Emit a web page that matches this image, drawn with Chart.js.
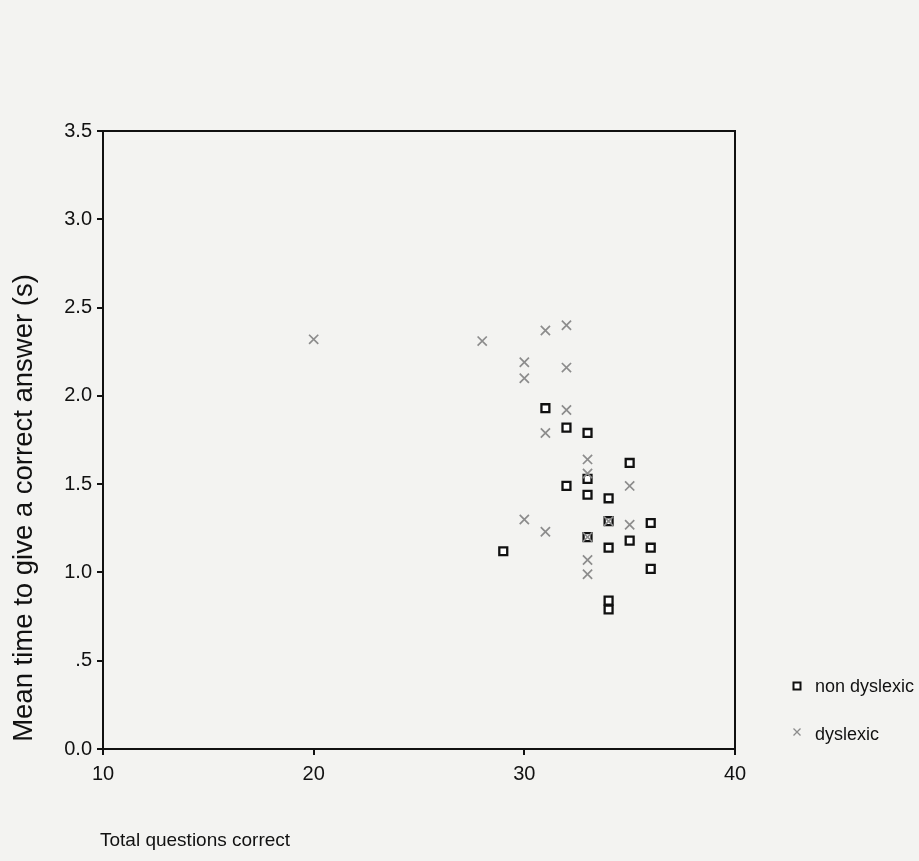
<!DOCTYPE html>
<html>
<head>
<meta charset="utf-8">
<script src="https://cdn.jsdelivr.net/npm/chart.js@4/dist/chart.umd.min.js"></script>
<style>
  html, body { margin: 0; padding: 0; background: #f3f3f1; }
  #wrap { width: 919px; height: 861px; position: relative; }
  canvas { display: block; }
</style>
</head>
<body>
<div id="wrap"><canvas id="c" width="919" height="861"></canvas></div>
<script>
// Total questions correct (x) and mean time to a correct answer in seconds (y)
const nonDyslexicX = [31, 32, 33, 33, 32, 33, 35, 34, 34, 36, 35, 33, 29, 34, 36, 36, 34, 34];
const nonDyslexicY = [1.93, 1.82, 1.79, 1.53, 1.49, 1.44, 1.62, 1.42, 1.29, 1.28, 1.18, 1.20, 1.12, 1.14, 1.14, 1.02, 0.84, 0.79];

const dyslexicX = [20, 28, 31, 32, 30, 30, 32, 32, 31, 33, 33, 35, 34, 35, 33, 30, 31, 33, 33];
const dyslexicY = [2.32, 2.31, 2.37, 2.40, 2.19, 2.10, 2.16, 1.92, 1.79, 1.64, 1.56, 1.49, 1.29, 1.27, 1.20, 1.30, 1.23, 1.07, 0.99];

const seriesNames = ['non dyslexic', 'dyslexic'];

const xTickValues = [10, 20, 30, 40];
const xTickLabels = ['10', '20', '30', '40'];
const yTickValues = [0, 0.5, 1, 1.5, 2, 2.5, 3, 3.5];
const yTickLabels = ['0.0', '.5', '1.0', '1.5', '2.0', '2.5', '3.0', '3.5'];

const xTitle = 'Total questions correct';
const yTitle = 'Mean time to give a correct answer (s)';

const FONT = '"Liberation Sans", Arial, Helvetica, sans-serif';
const INK = '#111111';
const CROSS_GREY = '#8c8c8c';

const toPoints = (xs, ys) => xs.map((x, i) => ({ x: x, y: ys[i] }));

// Closed frame, axis titles and the legend at the lower right
const framePlugin = {
  id: 'frame',
  afterDraw(chart) {
    const ctx = chart.ctx;
    const a = chart.chartArea;
    ctx.save();
    ctx.strokeStyle = INK;
    ctx.lineWidth = 2;
    ctx.beginPath();
    ctx.moveTo(a.left, a.top);
    ctx.lineTo(a.right, a.top);
    ctx.lineTo(a.right, a.bottom);
    ctx.stroke();

    // y title
    ctx.fillStyle = INK;
    ctx.font = '27.5px ' + FONT;
    ctx.textAlign = 'center';
    ctx.textBaseline = 'middle';
    ctx.translate(24, 508);
    ctx.rotate(-Math.PI / 2);
    ctx.fillText(yTitle, 0, 0);
    ctx.restore();

    // x title
    ctx.save();
    ctx.fillStyle = INK;
    ctx.font = '19px ' + FONT;
    ctx.textAlign = 'left';
    ctx.textBaseline = 'middle';
    ctx.fillText(xTitle, 100, 841);

    // legend
    const lx = 797;
    const rows = [686, 732];
    // square marker
    ctx.strokeStyle = INK;
    ctx.lineWidth = 2;
    ctx.fillStyle = '#ffffff';
    ctx.beginPath();
    ctx.rect(lx - 3.5, rows[0] - 3.5, 7, 7);
    ctx.fill();
    ctx.stroke();
    // cross marker
    ctx.strokeStyle = CROSS_GREY;
    ctx.lineWidth = 1.3;
    ctx.beginPath();
    ctx.moveTo(lx - 3.5, rows[1] - 3.5);
    ctx.lineTo(lx + 3.5, rows[1] + 3.5);
    ctx.moveTo(lx + 3.5, rows[1] - 3.5);
    ctx.lineTo(lx - 3.5, rows[1] + 3.5);
    ctx.stroke();

    ctx.fillStyle = INK;
    ctx.font = '18px ' + FONT;
    ctx.textBaseline = 'middle';
    ctx.fillText(seriesNames[0], 815, rows[0] + 1);
    ctx.fillText(seriesNames[1], 815, rows[1] + 3);
    ctx.restore();
  }
};

Chart.defaults.font.family = FONT;
Chart.defaults.color = INK;

new Chart(document.getElementById('c'), {
  type: 'scatter',
  data: {
    datasets: [
      {
        label: seriesNames[0],
        data: toPoints(nonDyslexicX, nonDyslexicY),
        pointStyle: 'rect',
        pointRadius: 5.6,
        pointHoverRadius: 5.6,
        borderWidth: 2.3,
        borderColor: INK,
        backgroundColor: '#ffffff',
        order: 2
      },
      {
        label: seriesNames[1],
        data: toPoints(dyslexicX, dyslexicY),
        pointStyle: 'crossRot',
        pointRadius: 6.5,
        pointHoverRadius: 6.5,
        borderWidth: 1.7,
        borderColor: CROSS_GREY,
        backgroundColor: CROSS_GREY,
        order: 1
      }
    ]
  },
  options: {
    responsive: false,
    animation: false,
    devicePixelRatio: 1,
    layout: { padding: { left: 0, top: 131, right: 184, bottom: 0 } },
    plugins: {
      legend: { display: false },
      tooltip: { enabled: false }
    },
    scales: {
      x: {
        type: 'linear',
        min: 10,
        max: 40,
        afterFit(scale) { scale.height = 112; },
        afterBuildTicks(scale) { scale.ticks = xTickValues.map(v => ({ value: v })); },
        ticks: {
          callback: (v) => xTickLabels[xTickValues.indexOf(v)],
          font: { size: 20 },
          color: INK,
          padding: 7,
          maxRotation: 0
        },
        grid: {
          drawOnChartArea: false,
          drawTicks: true,
          tickLength: 6,
          color: INK,
          lineWidth: 2
        },
        border: { display: true, color: INK, width: 2 }
      },
      y: {
        type: 'linear',
        min: 0,
        max: 3.5,
        afterFit(scale) { scale.width = 103; },
        afterBuildTicks(scale) { scale.ticks = yTickValues.map(v => ({ value: v })); },
        ticks: {
          callback: (v) => yTickLabels[yTickValues.indexOf(v)],
          font: { size: 20 },
          color: INK,
          padding: 5
        },
        grid: {
          drawOnChartArea: false,
          drawTicks: true,
          tickLength: 6,
          color: INK,
          lineWidth: 2
        },
        border: { display: true, color: INK, width: 2 }
      }
    }
  },
  plugins: [framePlugin]
});
</script>
</body>
</html>
